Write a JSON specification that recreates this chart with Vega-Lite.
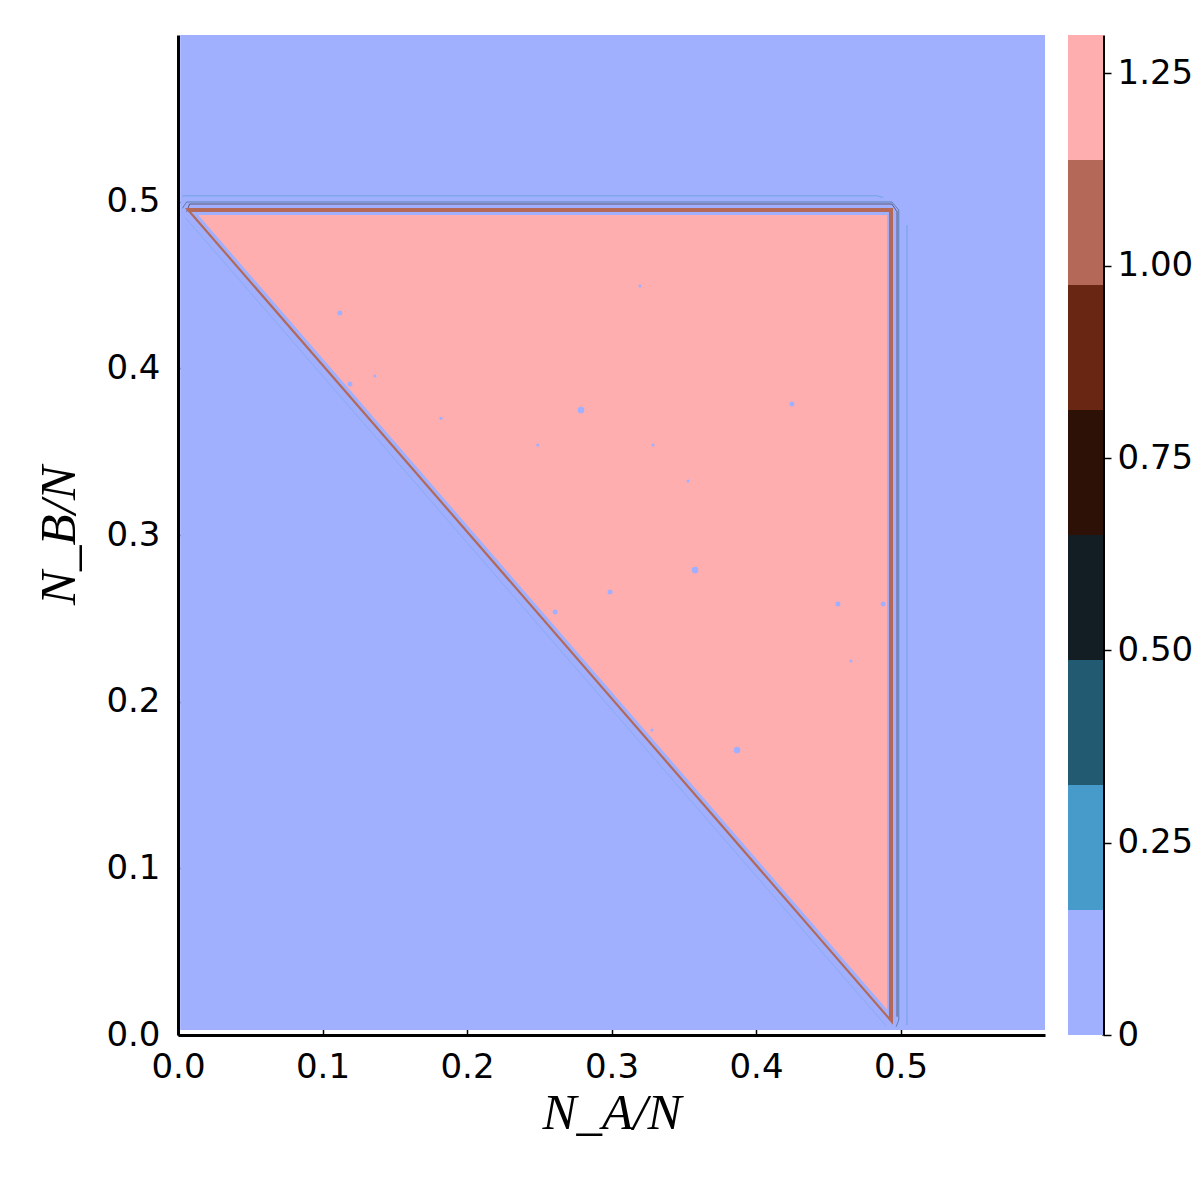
{
  "$schema": "https://vega.github.io/schema/vega-lite/v6.json",
  "background": "white",
  "padding": {"left": 33, "top": 35, "right": 0, "bottom": 0},
  "spacing": 23,
  "config": {
    "view": {"stroke": null},
    "font": "DejaVu Sans",
    "axis": {
      "grid": false,
      "domainColor": "black",
      "domainWidth": 3,
      "tickColor": "black",
      "tickWidth": 1.5,
      "labelColor": "black",
      "labelFont": "DejaVu Sans",
      "labelFontSize": 34,
      "labelFlush": false,
      "labelOverlap": false,
      "titleColor": "black",
      "titleFont": "Liberation Serif",
      "titleFontStyle": "italic",
      "titleFontWeight": "normal",
      "titleFontSize": 51
    }
  },
  "datasets": {
    "bg": [{"x0": 0.0015, "x1": 0.6, "y0": 0.003, "y1": 0.6, "z": 0.05}],
    "brown": [
      {"x": 0.0048, "top": 0.4962, "bot": 0.4962, "z": 1.05},
      {"x": 0.4948, "top": 0.4962, "bot": 0.0062, "z": 1.05}
    ],
    "lightblue": [
      {"x": 0.0092, "top": 0.4938, "bot": 0.4938, "z": 0.05},
      {"x": 0.492, "top": 0.4938, "bot": 0.011, "z": 0.05}
    ],
    "pink": [
      {"x": 0.014, "top": 0.492, "bot": 0.492, "z": 1.25},
      {"x": 0.4907, "top": 0.492, "bot": 0.0153, "z": 1.25}
    ],
    "lines": [
      {"seg": "cyanTop", "i": 0, "x": 0.003, "y": 0.5035, "z": 0.25},
      {"seg": "cyanTop", "i": 1, "x": 0.484, "y": 0.5035, "z": 0.25},
      {"seg": "cyanTop", "i": 2, "x": 0.488, "y": 0.5025, "z": 0.25},
      {"seg": "cyanRight", "i": 0, "x": 0.5045, "y": 0.486, "z": 0.25},
      {"seg": "cyanRight", "i": 1, "x": 0.5045, "y": 0.006, "z": 0.25},
      {"seg": "navy", "i": 0, "x": 0.003, "y": 0.496, "z": 0.4},
      {"seg": "navy", "i": 1, "x": 0.006, "y": 0.4998, "z": 0.4},
      {"seg": "navy", "i": 2, "x": 0.494, "y": 0.4998, "z": 0.4},
      {"seg": "navy", "i": 3, "x": 0.4988, "y": 0.495, "z": 0.4},
      {"seg": "navy", "i": 4, "x": 0.4988, "y": 0.009, "z": 0.4},
      {"seg": "navy", "i": 5, "x": 0.497, "y": 0.005, "z": 0.4},
      {"seg": "dark", "i": 0, "x": 0.006, "y": 0.494, "z": 0.7},
      {"seg": "dark", "i": 1, "x": 0.008, "y": 0.4986, "z": 0.7},
      {"seg": "dark", "i": 2, "x": 0.494, "y": 0.4986, "z": 0.7},
      {"seg": "dark", "i": 3, "x": 0.4976, "y": 0.494, "z": 0.7},
      {"seg": "dark", "i": 4, "x": 0.4976, "y": 0.011, "z": 0.7}
    ],
    "faint": [
      {"x": 0.005, "y": 0.4905, "z": 0.25},
      {"x": 0.49, "y": 0.0055, "z": 0.25}
    ],
    "dots": [
      {"x": 0.112, "y": 0.4332, "k": "small", "z": 0.05},
      {"x": 0.3197, "y": 0.4494, "k": "tiny", "z": 0.05},
      {"x": 0.1363, "y": 0.3954, "k": "tiny", "z": 0.05},
      {"x": 0.119, "y": 0.3906, "k": "small", "z": 0.05},
      {"x": 0.182, "y": 0.370, "k": "tiny", "z": 0.05},
      {"x": 0.2789, "y": 0.375, "k": "medium", "z": 0.05},
      {"x": 0.249, "y": 0.354, "k": "tiny", "z": 0.05},
      {"x": 0.3287, "y": 0.354, "k": "tiny", "z": 0.05},
      {"x": 0.4249, "y": 0.3786, "k": "small", "z": 0.05},
      {"x": 0.353, "y": 0.3324, "k": "tiny", "z": 0.05},
      {"x": 0.3578, "y": 0.279, "k": "medium", "z": 0.05},
      {"x": 0.299, "y": 0.2658, "k": "small", "z": 0.05},
      {"x": 0.261, "y": 0.2538, "k": "small", "z": 0.05},
      {"x": 0.4567, "y": 0.2586, "k": "small", "z": 0.05},
      {"x": 0.4657, "y": 0.2244, "k": "tiny", "z": 0.05},
      {"x": 0.3869, "y": 0.171, "k": "medium", "z": 0.05},
      {"x": 0.488, "y": 0.2586, "k": "small", "z": 0.05},
      {"x": 0.328, "y": 0.183, "k": "tiny", "z": 0.05}
    ],
    "cbar": [
      {"lo": 0, "hi": 0.1625, "z": 0.05},
      {"lo": 0.1625, "hi": 0.325, "z": 0.25},
      {"lo": 0.325, "hi": 0.4875, "z": 0.4},
      {"lo": 0.4875, "hi": 0.65, "z": 0.55},
      {"lo": 0.65, "hi": 0.8125, "z": 0.7},
      {"lo": 0.8125, "hi": 0.975, "z": 0.9},
      {"lo": 0.975, "hi": 1.1375, "z": 1.05},
      {"lo": 1.1375, "hi": 1.3, "z": 1.25}
    ]
  },
  "hconcat": [
    {
      "width": 867,
      "height": 1000,
      "layer": [
        {
          "data": {"name": "bg"},
          "mark": {"type": "rect"},
          "encoding": {
            "x": {"field": "x0", "type": "quantitative", "scale": {"domain": [0, 0.6], "nice": false, "zero": false},
              "axis": {"title": "N_A/N", "values": [0, 0.1, 0.2, 0.3, 0.4, 0.5], "format": ".1f", "tickSize": -7, "labelPadding": 22, "titlePadding": 4}},
            "x2": {"field": "x1"},
            "y": {"field": "y0", "type": "quantitative", "scale": {"domain": [0, 0.6], "nice": false, "zero": false},
              "axis": {"title": "N_B/N", "values": [0, 0.1, 0.2, 0.3, 0.4, 0.5], "format": ".1f", "tickSize": -7, "labelPadding": 25, "titlePadding": 20}},
            "y2": {"field": "y1"},
            "color": {"field": "z", "type": "quantitative", "legend": null,
              "scale": {"type": "threshold", "domain": [0.1625, 0.325, 0.4875, 0.65, 0.8125, 0.975, 1.1375],
                "range": ["#a0b0fe", "#479bca", "#225a72", "#121e24", "#2d1106", "#692613", "#b36858", "#feaeae"]}}
          }
        },
        {
          "data": {"name": "faint"},
          "mark": {"type": "line", "opacity": 0.25, "strokeWidth": 1},
          "encoding": {
            "x": {"field": "x", "type": "quantitative", "scale": {"domain": [0, 0.6], "nice": false, "zero": false},
              "axis": {"title": "N_A/N", "values": [0, 0.1, 0.2, 0.3, 0.4, 0.5], "format": ".1f", "tickSize": -7, "labelPadding": 22, "titlePadding": 4}},
            "y": {"field": "y", "type": "quantitative", "scale": {"domain": [0, 0.6], "nice": false, "zero": false},
              "axis": {"title": "N_B/N", "values": [0, 0.1, 0.2, 0.3, 0.4, 0.5], "format": ".1f", "tickSize": -7, "labelPadding": 25, "titlePadding": 20}},
            "color": {"field": "z", "type": "quantitative", "legend": null,
              "scale": {"type": "threshold", "domain": [0.1625, 0.325, 0.4875, 0.65, 0.8125, 0.975, 1.1375],
                "range": ["#a0b0fe", "#479bca", "#225a72", "#121e24", "#2d1106", "#692613", "#b36858", "#feaeae"]}}
          }
        },
        {
          "data": {"name": "lines"},
          "mark": {"type": "line", "strokeWidth": 1, "opacity": 0.55},
          "encoding": {
            "x": {"field": "x", "type": "quantitative", "scale": {"domain": [0, 0.6], "nice": false, "zero": false},
              "axis": {"title": "N_A/N", "values": [0, 0.1, 0.2, 0.3, 0.4, 0.5], "format": ".1f", "tickSize": -7, "labelPadding": 22, "titlePadding": 4}},
            "y": {"field": "y", "type": "quantitative", "scale": {"domain": [0, 0.6], "nice": false, "zero": false},
              "axis": {"title": "N_B/N", "values": [0, 0.1, 0.2, 0.3, 0.4, 0.5], "format": ".1f", "tickSize": -7, "labelPadding": 25, "titlePadding": 20}},
            "detail": {"field": "seg", "type": "nominal"},
            "order": {"field": "i", "type": "quantitative"},
            "color": {"field": "z", "type": "quantitative", "legend": null,
              "scale": {"type": "threshold", "domain": [0.1625, 0.325, 0.4875, 0.65, 0.8125, 0.975, 1.1375],
                "range": ["#a0b0fe", "#479bca", "#225a72", "#121e24", "#2d1106", "#692613", "#b36858", "#feaeae"]}}
          }
        },
        {
          "data": {"name": "brown"},
          "mark": {"type": "area", "orient": "vertical"},
          "encoding": {
            "x": {"field": "x", "type": "quantitative", "scale": {"domain": [0, 0.6], "nice": false, "zero": false},
              "axis": {"title": "N_A/N", "values": [0, 0.1, 0.2, 0.3, 0.4, 0.5], "format": ".1f", "tickSize": -7, "labelPadding": 22, "titlePadding": 4}},
            "y": {"field": "top", "type": "quantitative", "scale": {"domain": [0, 0.6], "nice": false, "zero": false},
              "axis": {"title": "N_B/N", "values": [0, 0.1, 0.2, 0.3, 0.4, 0.5], "format": ".1f", "tickSize": -7, "labelPadding": 25, "titlePadding": 20}},
            "y2": {"field": "bot"},
            "color": {"field": "z", "type": "quantitative", "legend": null,
              "scale": {"type": "threshold", "domain": [0.1625, 0.325, 0.4875, 0.65, 0.8125, 0.975, 1.1375],
                "range": ["#a0b0fe", "#479bca", "#225a72", "#121e24", "#2d1106", "#692613", "#b36858", "#feaeae"]}}
          }
        },
        {
          "data": {"name": "lightblue"},
          "mark": {"type": "area", "orient": "vertical"},
          "encoding": {
            "x": {"field": "x", "type": "quantitative", "scale": {"domain": [0, 0.6], "nice": false, "zero": false},
              "axis": {"title": "N_A/N", "values": [0, 0.1, 0.2, 0.3, 0.4, 0.5], "format": ".1f", "tickSize": -7, "labelPadding": 22, "titlePadding": 4}},
            "y": {"field": "top", "type": "quantitative", "scale": {"domain": [0, 0.6], "nice": false, "zero": false},
              "axis": {"title": "N_B/N", "values": [0, 0.1, 0.2, 0.3, 0.4, 0.5], "format": ".1f", "tickSize": -7, "labelPadding": 25, "titlePadding": 20}},
            "y2": {"field": "bot"},
            "color": {"field": "z", "type": "quantitative", "legend": null,
              "scale": {"type": "threshold", "domain": [0.1625, 0.325, 0.4875, 0.65, 0.8125, 0.975, 1.1375],
                "range": ["#a0b0fe", "#479bca", "#225a72", "#121e24", "#2d1106", "#692613", "#b36858", "#feaeae"]}}
          }
        },
        {
          "data": {"name": "pink"},
          "mark": {"type": "area", "orient": "vertical"},
          "encoding": {
            "x": {"field": "x", "type": "quantitative", "scale": {"domain": [0, 0.6], "nice": false, "zero": false},
              "axis": {"title": "N_A/N", "values": [0, 0.1, 0.2, 0.3, 0.4, 0.5], "format": ".1f", "tickSize": -7, "labelPadding": 22, "titlePadding": 4}},
            "y": {"field": "top", "type": "quantitative", "scale": {"domain": [0, 0.6], "nice": false, "zero": false},
              "axis": {"title": "N_B/N", "values": [0, 0.1, 0.2, 0.3, 0.4, 0.5], "format": ".1f", "tickSize": -7, "labelPadding": 25, "titlePadding": 20}},
            "y2": {"field": "bot"},
            "color": {"field": "z", "type": "quantitative", "legend": null,
              "scale": {"type": "threshold", "domain": [0.1625, 0.325, 0.4875, 0.65, 0.8125, 0.975, 1.1375],
                "range": ["#a0b0fe", "#479bca", "#225a72", "#121e24", "#2d1106", "#692613", "#b36858", "#feaeae"]}}
          }
        },
        {
          "data": {"name": "dots"},
          "mark": {"type": "circle", "opacity": 1},
          "encoding": {
            "x": {"field": "x", "type": "quantitative", "scale": {"domain": [0, 0.6], "nice": false, "zero": false},
              "axis": {"title": "N_A/N", "values": [0, 0.1, 0.2, 0.3, 0.4, 0.5], "format": ".1f", "tickSize": -7, "labelPadding": 22, "titlePadding": 4}},
            "y": {"field": "y", "type": "quantitative", "scale": {"domain": [0, 0.6], "nice": false, "zero": false},
              "axis": {"title": "N_B/N", "values": [0, 0.1, 0.2, 0.3, 0.4, 0.5], "format": ".1f", "tickSize": -7, "labelPadding": 25, "titlePadding": 20}},
            "size": {"field": "k", "type": "nominal", "legend": null, "scale": {"type": "ordinal", "domain": ["tiny", "small", "medium"], "range": [10, 25, 45]}},
            "color": {"field": "z", "type": "quantitative", "legend": null,
              "scale": {"type": "threshold", "domain": [0.1625, 0.325, 0.4875, 0.65, 0.8125, 0.975, 1.1375],
                "range": ["#a0b0fe", "#479bca", "#225a72", "#121e24", "#2d1106", "#692613", "#b36858", "#feaeae"]}}
          }
        }
      ]
    },
    {
      "width": 35,
      "height": 1000,
      "data": {"name": "cbar"},
      "mark": {"type": "rect"},
      "encoding": {
        "y": {"field": "lo", "type": "quantitative", "scale": {"domain": [0, 1.3], "nice": false, "zero": true},
          "axis": {"orient": "right", "title": null, "values": [0, 0.25, 0.5, 0.75, 1, 1.25],
            "labelExpr": "datum.value == 0 ? '0' : format(datum.value, '.2f')", "tickSize": 8, "labelPadding": 6}},
        "y2": {"field": "hi"},
        "color": {"field": "z", "type": "quantitative", "legend": null,
          "scale": {"type": "threshold", "domain": [0.1625, 0.325, 0.4875, 0.65, 0.8125, 0.975, 1.1375],
            "range": ["#a0b0fe", "#479bca", "#225a72", "#121e24", "#2d1106", "#692613", "#b36858", "#feaeae"]}}
      }
    }
  ]
}
